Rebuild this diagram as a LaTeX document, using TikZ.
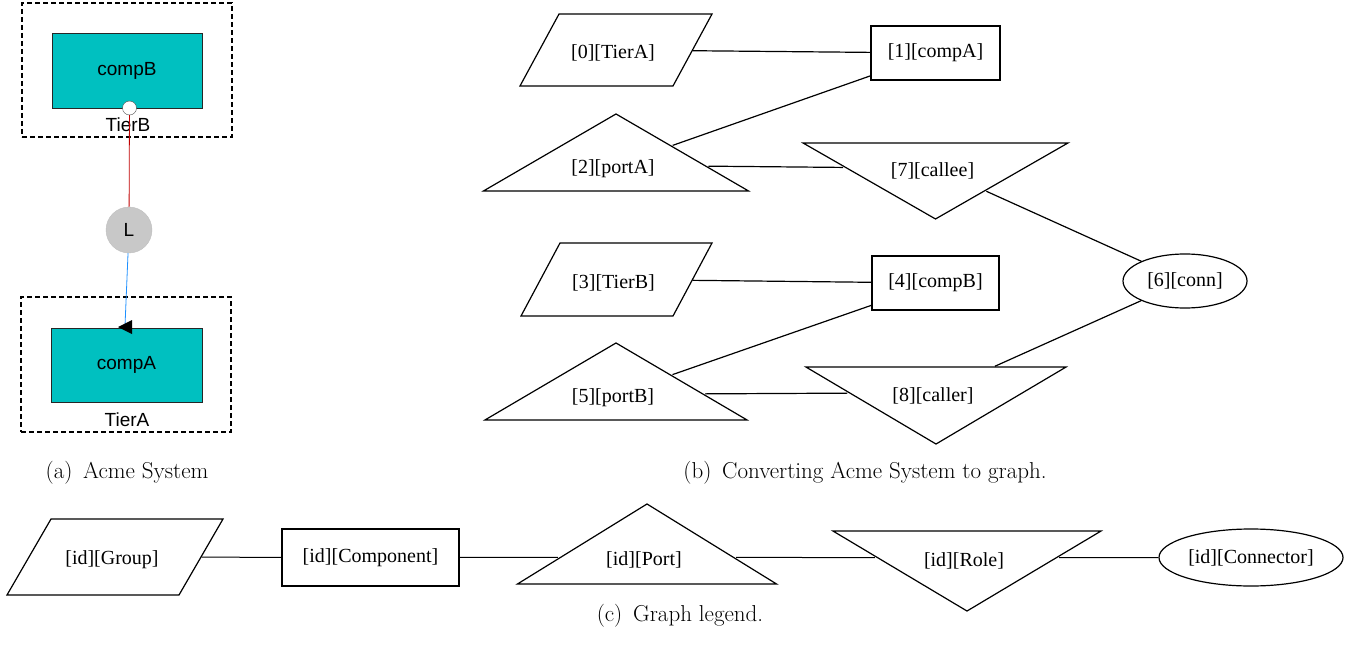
\documentclass[tikz,border=0pt]{standalone}
\usepackage{fontspec}
\newfontfamily\graphfont{Liberation Serif}
\newfontfamily\acmefont{Liberation Sans}
\usetikzlibrary{shapes.geometric}
\definecolor{comp}{HTML}{00C0C0}
\definecolor{link}{HTML}{C8C8C8}
\definecolor{attach}{HTML}{1E90FF}
\definecolor{binding}{HTML}{C00000}
\tikzset{acme comp/.style={draw=black!85,fill=comp,minimum width=150pt,minimum height=75pt,
    font=\acmefont\fontsize{19}{22}\selectfont}}
\tikzset{tier box/.style={draw,line width=1.8pt,dash pattern=on 5pt off 3pt}}
\tikzset{acme label/.style={font=\acmefont\fontsize{19}{22}\selectfont}}
\tikzset{g node/.style={draw,line width=1.2pt,inner sep=0pt,font=\graphfont\fontsize{20}{24}\selectfont}}
\tikzset{g text/.style={inner sep=0pt,xshift=-3pt,yshift=-3pt,font=\graphfont\fontsize{20}{24}\selectfont}}
% groups: slanted box, triangles: unit triangle stretched per node
\tikzset{g group/.style={draw,line width=1.2pt,inner sep=0pt,xslant=#1,transform shape}}
\tikzset{g tri/.style={draw,line width=1.2pt,regular polygon,regular polygon sides=3,
    minimum size=80pt,inner sep=0pt,transform shape}}
\tikzset{g edge/.style={line width=1.2pt}}
\tikzset{sub caption/.style={font=\fontsize{23}{28}\selectfont}}

\begin{document}
\begin{tikzpicture}[x=1pt,y=-1pt]
  \useasboundingbox (0,0) rectangle (1364,655);
  % (a) acme view
  \node[tier box,minimum width=210pt,minimum height=134pt] (tierB) at (127,70) {};
  \node[acme comp] (compB) at (127,70.5) {compB};
  \node[acme label] (tierBlab) at (128,125) {TierB};
  \node[tier box,minimum width=210pt,minimum height=135pt] (tierA) at (126,364.5) {};
  \node[acme comp,minimum width=151pt,minimum height=74pt] (compA) at (126.5,365) {compA};
  \node[acme label] (tierAlab) at (127,420) {TierA};
  \node[circle,draw=black!70,fill=white,inner sep=0pt,minimum size=14pt] (portB) at (129.5,108) {};
  \node[circle,draw=black!25,fill=link,inner sep=0pt,minimum size=46pt,acme label] (L) at (129,230) {L};
  \coordinate (tipA) at (125,326);
  \draw[binding,line width=0.8pt] (portB) -- (L);
  \draw[attach,line width=0.8pt] (L) -- (tipA);
  \fill (118,327) -- (132,320) -- (132,334) -- cycle;
  \node[sub caption] (capa) at (127,473) {(a)\, Acme System};

  % (b) graph
  \begin{scope}[shift={(616,50)}]
    \node[g group=0.542,minimum width=153pt,minimum height=72pt] (n0) {}; \end{scope}
  \node[g node,minimum width=129pt,minimum height=54pt] (n1) at (935.5,53) {[1][compA]};
  \begin{scope}[shift={(616,165.3)}] \node[g tri,xscale=3.825,yscale=1.283] (n2) {}; \end{scope}
  \begin{scope}[shift={(616.5,279.5)}]
    \node[g group=0.534,minimum width=152pt,minimum height=73pt] (n3) {}; \end{scope}
  \node[g node,minimum width=127pt,minimum height=54pt] (n4) at (935.5,283) {[4][compB]};
  \begin{scope}[shift={(616,394.3)}] \node[g tri,xscale=3.782,yscale=1.283] (n5) {}; \end{scope}
  \node[g node,ellipse,minimum width=124pt,minimum height=54pt] (n6) at (1185,281) {[6][conn]};
  \begin{scope}[shift={(935.5,168.3)}]
    \node[g tri,shape border rotate=180,xscale=3.825,yscale=1.267] (n7) {}; \end{scope}
  \begin{scope}[shift={(936,392.7)}]
    \node[g tri,shape border rotate=180,xscale=3.753,yscale=1.283] (n8) {}; \end{scope}
  \node[g text] (t0) at (n0) {[0][TierA]};
  \node[g text] (t2) at (n2) {[2][portA]};
  \node[g text] (t3) at (n3) {[3][TierB]};
  \node[g text] (t5) at (n5) {[5][portB]};
  \node[g text] (t7) at (n7) {[7][callee]};
  \node[g text] (t8) at (n8) {[8][caller]};
  \foreach \a/\b in {n0/n1,n1/n2,n2/n7,n7/n6,n3/n4,n4/n5,n5/n8,n8/n6}
    \draw[g edge] (\a) -- (\b);
  \node[sub caption] (capb) at (865,473) {(b)\, Converting Acme System to graph.};

  % (c) legend
  \begin{scope}[every node/.append style={font=\graphfont\fontsize{21}{25}\selectfont}]
    \begin{scope}[shift={(115,557)}]
      \node[g group=0.579,minimum width=172pt,minimum height=76pt] (lgroup) {}; \end{scope}
    \node[g node,minimum width=177pt,minimum height=57pt] (lcomp) at (370.5,557.5) {[id][Component]};
    \begin{scope}[shift={(647,557.3)}] \node[g tri,xscale=3.738,yscale=1.333] (lport) {}; \end{scope}
    \begin{scope}[shift={(967,557.7)}]
      \node[g tri,shape border rotate=180,xscale=3.868,yscale=1.333] (lrole) {}; \end{scope}
    \node[g text] (tgroup) at (lgroup) {[id][Group]};
    \node[g text] (tport) at (lport) {[id][Port]};
    \node[g text] (trole) at (lrole) {[id][Role]};
    \node[g node,ellipse,minimum width=184pt,minimum height=57pt] (lconn) at (1251,557.5) {[id][Connector]};
  \end{scope}
  \foreach \a/\b in {lgroup/lcomp,lcomp/lport,lport/lrole,lrole/lconn}
    \draw[line width=1pt] (\a) -- (\b);
  \node[sub caption] (capc) at (680,616) {(c)\, Graph legend.};
\end{tikzpicture}
\end{document}
